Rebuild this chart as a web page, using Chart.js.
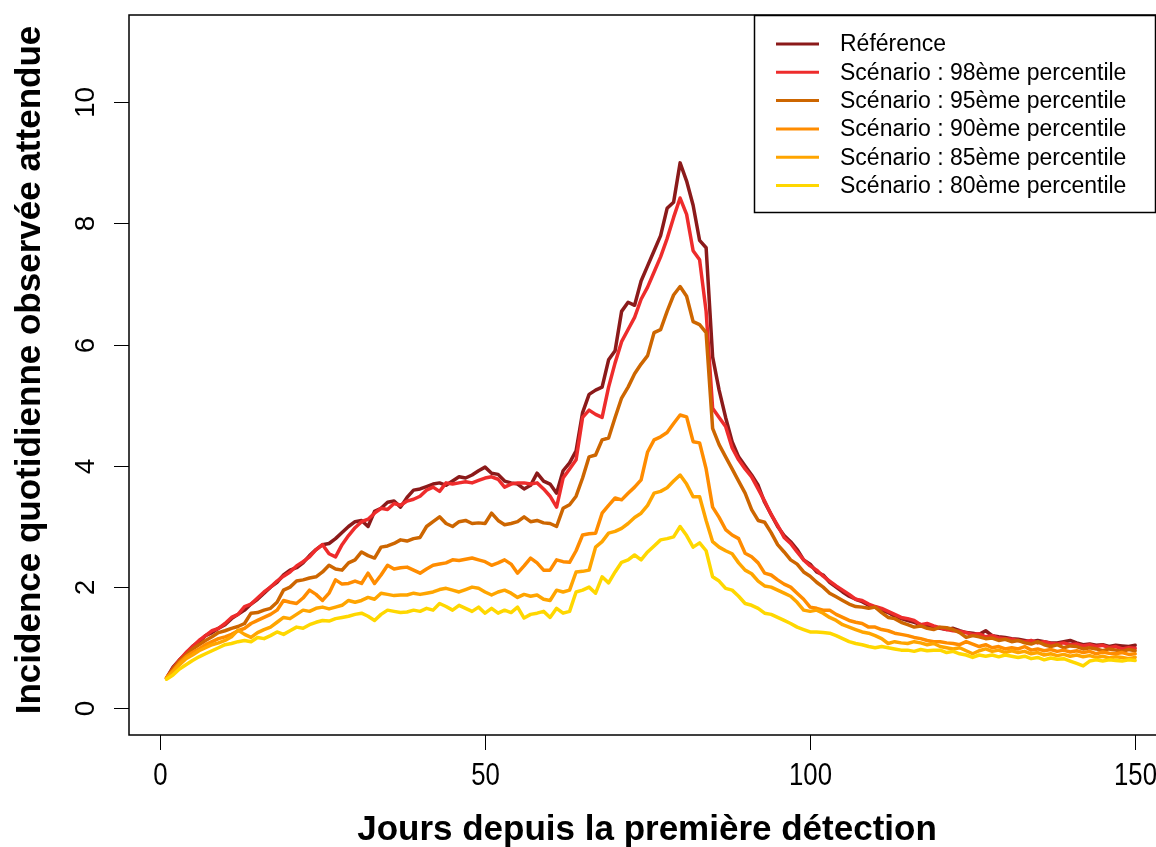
<!DOCTYPE html>
<html>
<head>
<meta charset="utf-8">
<script src="https://cdn.jsdelivr.net/npm/chart.js@4"></script>
<style>
  html, body { margin: 0; padding: 0; background: #fff; }
  #wrap { width: 1156px; height: 847px; }
</style>
</head>
<body>
<div id="wrap"><canvas id="myChart" width="1156" height="847"></canvas></div>
<script>
// jours 1..150
const days = Array.from({ length: 150 }, (_, i) => i + 1);

const reference = [
  0.50, 0.68, 0.80, 0.90, 1.02, 1.10, 1.20, 1.25, 1.32, 1.38,
  1.48, 1.55, 1.62, 1.72, 1.80, 1.90, 2.00, 2.08, 2.20, 2.28,
  2.32, 2.40, 2.52, 2.62, 2.70, 2.72, 2.80, 2.90, 3.00, 3.08,
  3.10, 3.00, 3.25, 3.30, 3.40, 3.42, 3.32, 3.48, 3.60, 3.62,
  3.66, 3.70, 3.72, 3.68, 3.75, 3.82, 3.80, 3.85, 3.92, 3.98,
  3.88, 3.86, 3.75, 3.72, 3.70, 3.62, 3.68, 3.88, 3.75, 3.70,
  3.55, 3.92, 4.05, 4.25, 4.88, 5.18, 5.25, 5.30, 5.75, 5.90,
  6.55, 6.70, 6.65, 7.05, 7.30, 7.55, 7.80, 8.25, 8.35, 9.00,
  8.70, 8.30, 7.72, 7.60, 5.80, 5.25, 4.80, 4.40, 4.15, 4.00,
  3.85, 3.68, 3.40, 3.20, 3.00, 2.85, 2.75, 2.62, 2.45, 2.38,
  2.25, 2.20, 2.08, 2.00, 1.92, 1.85, 1.80, 1.76, 1.70, 1.67,
  1.62, 1.58, 1.52, 1.48, 1.45, 1.42, 1.38, 1.36, 1.34, 1.32,
  1.30, 1.32, 1.28, 1.25, 1.24, 1.22, 1.28, 1.20, 1.18, 1.17,
  1.15, 1.14, 1.12, 1.10, 1.12, 1.10, 1.08, 1.08, 1.10, 1.12,
  1.08, 1.05, 1.06, 1.04, 1.05, 1.02, 1.04, 1.03, 1.02, 1.04
];

const p98 = [
  0.50, 0.66, 0.80, 0.92, 1.02, 1.12, 1.20, 1.28, 1.32, 1.40,
  1.50, 1.55, 1.68, 1.72, 1.82, 1.92, 2.00, 2.10, 2.18, 2.25,
  2.35, 2.42, 2.50, 2.62, 2.70, 2.55, 2.50, 2.70, 2.85, 2.98,
  3.08, 3.12, 3.22, 3.30, 3.28, 3.38, 3.35, 3.42, 3.45, 3.50,
  3.60, 3.65, 3.58, 3.72, 3.70, 3.72, 3.74, 3.72, 3.76, 3.80,
  3.82, 3.78, 3.65, 3.70, 3.72, 3.72, 3.70, 3.72, 3.62, 3.50,
  3.32, 3.80, 3.95, 4.10, 4.80, 4.92, 4.85, 4.80, 5.30, 5.70,
  6.05, 6.25, 6.45, 6.75, 6.95, 7.20, 7.45, 7.75, 8.10, 8.42,
  8.15, 7.55, 7.40, 6.55, 4.95, 4.80, 4.65, 4.30, 4.10, 3.95,
  3.82, 3.62, 3.42, 3.20, 3.02, 2.82, 2.72, 2.58, 2.45, 2.35,
  2.28, 2.18, 2.10, 2.02, 1.95, 1.88, 1.80, 1.78, 1.72, 1.68,
  1.65, 1.60, 1.55, 1.50, 1.48, 1.45, 1.38, 1.40, 1.36, 1.33,
  1.30, 1.28, 1.27, 1.25, 1.22, 1.23, 1.18, 1.20, 1.16, 1.15,
  1.14, 1.12, 1.10, 1.12, 1.08, 1.10, 1.07, 1.06, 1.08, 1.05,
  1.06, 1.03, 1.05, 1.02, 1.04, 1.00, 1.02, 0.98, 1.00, 0.99
];

const p95 = [
  0.50, 0.65, 0.78, 0.88, 0.98, 1.05, 1.12, 1.18, 1.25, 1.28,
  1.32, 1.35, 1.40, 1.57, 1.58, 1.62, 1.65, 1.75, 1.95, 2.00,
  2.10, 2.12, 2.15, 2.17, 2.25, 2.36, 2.30, 2.28, 2.40, 2.45,
  2.58, 2.52, 2.48, 2.66, 2.68, 2.72, 2.78, 2.76, 2.80, 2.82,
  3.00, 3.08, 3.16, 3.05, 3.00, 3.08, 3.10, 3.05, 3.06, 3.05,
  3.22, 3.10, 3.03, 3.05, 3.08, 3.16, 3.08, 3.10, 3.06, 3.05,
  3.00, 3.30, 3.36, 3.50, 3.80, 4.15, 4.18, 4.43, 4.46, 4.80,
  5.12, 5.30, 5.52, 5.68, 5.82, 6.20, 6.25, 6.55, 6.82, 6.96,
  6.80, 6.38, 6.33, 6.20, 4.62, 4.35, 4.15, 3.95, 3.75, 3.55,
  3.28, 3.10, 3.07, 2.90, 2.70, 2.58, 2.45, 2.38, 2.25, 2.18,
  2.08, 2.00, 1.90, 1.84, 1.78, 1.72, 1.68, 1.67, 1.65, 1.67,
  1.58, 1.50, 1.48, 1.42, 1.38, 1.34, 1.36, 1.32, 1.30, 1.34,
  1.33, 1.30, 1.25, 1.17, 1.20, 1.18, 1.15, 1.16, 1.12, 1.14,
  1.10, 1.12, 1.08, 1.06, 1.10, 1.05, 1.02, 1.05, 1.00, 1.03,
  1.02, 0.98, 1.00, 0.98, 0.95, 0.98, 0.96, 0.94, 0.97, 0.95
];

const p90 = [
  0.50, 0.62, 0.75, 0.85, 0.92, 0.98, 1.05, 1.10, 1.15, 1.18,
  1.22, 1.28, 1.32, 1.40, 1.45, 1.50, 1.55, 1.62, 1.78, 1.75,
  1.73, 1.82, 1.95, 1.88, 1.78, 1.90, 2.12, 2.05, 2.06, 2.10,
  2.06, 2.23, 2.06, 2.20, 2.36, 2.30, 2.32, 2.33, 2.28, 2.23,
  2.30, 2.36, 2.38, 2.40, 2.45, 2.44, 2.46, 2.48, 2.45, 2.42,
  2.36, 2.40, 2.45, 2.38, 2.23, 2.35, 2.48, 2.40, 2.28, 2.28,
  2.45, 2.42, 2.41, 2.60, 2.86, 2.88, 2.89, 3.22, 3.35, 3.47,
  3.44, 3.55, 3.65, 3.77, 4.23, 4.43, 4.48, 4.55, 4.70, 4.84,
  4.81, 4.40, 4.38, 3.95, 3.32, 3.15, 2.95, 2.86, 2.80, 2.56,
  2.50, 2.40, 2.23, 2.20, 2.12, 2.05, 2.00, 1.90, 1.80, 1.67,
  1.65, 1.62, 1.62, 1.55, 1.50, 1.45, 1.42, 1.40, 1.34, 1.34,
  1.30, 1.28, 1.24, 1.22, 1.20, 1.17, 1.15, 1.12, 1.10, 1.10,
  1.08, 1.07, 1.05, 1.10, 1.06, 1.02, 1.05, 1.00, 1.02, 0.98,
  1.00, 0.98, 1.02, 0.96, 0.98, 0.95, 0.97, 0.94, 0.96, 0.93,
  0.95, 0.92, 0.94, 0.90, 0.93, 0.91, 0.90, 0.92, 0.89, 0.90
];

const p85 = [
  0.50, 0.60, 0.72, 0.82, 0.88, 0.95, 1.00, 1.05, 1.08, 1.12,
  1.18, 1.29, 1.22, 1.17, 1.25, 1.30, 1.34, 1.42, 1.50, 1.48,
  1.55, 1.62, 1.60, 1.65, 1.67, 1.64, 1.67, 1.70, 1.78, 1.75,
  1.78, 1.83, 1.80, 1.90, 1.88, 1.86, 1.87, 1.87, 1.90, 1.88,
  1.90, 1.92, 1.96, 1.98, 1.95, 1.92, 1.96, 2.00, 1.98, 1.92,
  1.87, 1.92, 1.95, 1.90, 1.83, 1.88, 1.85, 1.87, 1.80, 1.78,
  1.95, 1.92, 1.95, 2.25, 2.26, 2.28, 2.66, 2.75, 2.89, 2.92,
  2.97, 3.05, 3.15, 3.22, 3.35, 3.55, 3.58, 3.64, 3.75, 3.85,
  3.70, 3.49, 3.49, 3.10, 2.75, 2.66, 2.60, 2.55, 2.40, 2.28,
  2.22, 2.10, 2.02, 2.00, 1.95, 1.90, 1.85, 1.75, 1.62, 1.60,
  1.62, 1.57, 1.50, 1.45, 1.38, 1.34, 1.30, 1.26, 1.24, 1.20,
  1.15, 1.07, 1.10, 1.08, 1.07, 1.10, 1.08, 1.05, 1.07, 1.02,
  1.00, 0.98, 1.00, 0.95, 0.90, 0.95, 0.98, 0.94, 0.96, 0.92,
  0.95, 0.92, 0.94, 0.90, 0.92, 0.88, 0.90, 0.87, 0.89, 0.86,
  0.88, 0.85, 0.87, 0.84, 0.86, 0.83, 0.85, 0.84, 0.82, 0.84
];

const p80 = [
  0.48, 0.55, 0.65, 0.72, 0.79, 0.85, 0.90, 0.95, 1.00, 1.05,
  1.07, 1.10, 1.12, 1.10, 1.17, 1.15, 1.20, 1.26, 1.22, 1.28,
  1.34, 1.32, 1.38, 1.42, 1.45, 1.44, 1.48, 1.50, 1.52, 1.55,
  1.57, 1.52, 1.45, 1.55, 1.62, 1.60, 1.58, 1.59, 1.62, 1.60,
  1.65, 1.62, 1.73, 1.68, 1.62, 1.70, 1.65, 1.60, 1.67, 1.57,
  1.65, 1.57, 1.62, 1.58, 1.67, 1.49, 1.55, 1.57, 1.60, 1.50,
  1.65, 1.57, 1.60, 1.92, 1.95, 2.00, 1.90, 2.17, 2.07, 2.25,
  2.41, 2.45, 2.53, 2.45, 2.58, 2.68, 2.78, 2.80, 2.83, 3.00,
  2.85, 2.66, 2.73, 2.60, 2.17, 2.10, 1.98, 1.95, 1.85, 1.73,
  1.70, 1.65, 1.57, 1.55, 1.50, 1.45, 1.40, 1.34, 1.30, 1.26,
  1.26, 1.25, 1.24, 1.20, 1.15, 1.10, 1.07, 1.05, 1.02, 1.00,
  1.02, 1.00, 0.98, 0.96, 0.96, 0.94, 0.97, 0.95, 0.96, 0.96,
  0.92, 0.94, 0.90, 0.88, 0.84, 0.88, 0.86, 0.88, 0.85, 0.88,
  0.86, 0.84, 0.86, 0.82, 0.84, 0.80, 0.83, 0.81, 0.82, 0.78,
  0.74, 0.70, 0.78, 0.80, 0.78, 0.80, 0.79, 0.78, 0.80, 0.79
];

const seriesNames = [
  'Référence',
  'Scénario : 98ème percentile',
  'Scénario : 95ème percentile',
  'Scénario : 90ème percentile',
  'Scénario : 85ème percentile',
  'Scénario : 80ème percentile'
];
const seriesValues = [reference, p98, p95, p90, p85, p80];
const seriesColors = ['#8B1A1A', '#EE2C2C', '#CD6600', '#FF8C00', '#FFA500', '#FFD700'];

const xTicks = [0, 50, 100, 150];
const yTicks = [0, 2, 4, 6, 8, 10];
const xTitle = 'Jours depuis la première détection';
const yTitle = 'Incidence quotidienne observée attendue';

const FONT = '"Liberation Sans", Arial, sans-serif';

// axes + legende facon R
const rStyle = {
    id: 'rStyle',
    afterDraw(chart) {
        const { ctx, chartArea: a, scales: { x, y } } = chart;
        ctx.save();
        ctx.strokeStyle = '#000';
        ctx.fillStyle = '#000';
        ctx.lineWidth = 1.5;
        ctx.strokeRect(a.left, a.top, a.right - a.left + 20, a.bottom - a.top);

        ctx.lineWidth = 1;
        ctx.font = '28px ' + FONT;
        ctx.textAlign = 'center';
        ctx.textBaseline = 'middle';
        xTicks.forEach(v => {
            const px = Math.round(x.getPixelForValue(v)) + 0.5;
            ctx.beginPath();
            ctx.moveTo(px, a.bottom);
            ctx.lineTo(px, a.bottom + 15);
            ctx.stroke();
            ctx.save();
            ctx.translate(px, 776);
            ctx.scale(0.92, 1.12);
            ctx.fillText(String(v), 0, 0);
            ctx.restore();
        });
        yTicks.forEach(v => {
            const py = Math.round(y.getPixelForValue(v)) + 0.5;
            ctx.beginPath();
            ctx.moveTo(a.left - 15, py);
            ctx.lineTo(a.left, py);
            ctx.stroke();
            ctx.save();
            ctx.translate(86, py);
            ctx.rotate(-Math.PI / 2);
            ctx.fillText(String(v), 0, 0);
            ctx.restore();
        });

        ctx.font = 'bold 35px ' + FONT;
        ctx.fillText(xTitle, 647, 830);
        ctx.save();
        ctx.translate(30, 370);
        ctx.rotate(-Math.PI / 2);
        ctx.fillText(yTitle, 0, 0);
        ctx.restore();

        // legende
        const lx = 754, ly = 15, lw = 401, lh = 197;
        ctx.fillStyle = '#fff';
        ctx.fillRect(lx, ly, lw, lh);
        ctx.lineWidth = 1.5;
        ctx.strokeStyle = '#000';
        ctx.strokeRect(lx + 0.5, ly + 0.5, lw, lh);
        ctx.font = '23px ' + FONT;
        ctx.textAlign = 'left';
        seriesNames.forEach((name, i) => {
            const ry = 44 + i * 28.3;
            ctx.strokeStyle = seriesColors[i];
            ctx.lineWidth = 3;
            ctx.beginPath();
            ctx.moveTo(776, ry);
            ctx.lineTo(819, ry);
            ctx.stroke();
            ctx.fillStyle = '#000';
            ctx.fillText(name, 840, ry + 1);
        });
        ctx.restore();
    }
};

const datasets = seriesNames.map((name, i) => ({
    label: name,
    data: days.map((d, k) => ({ x: d, y: seriesValues[i][k] })),
    borderColor: seriesColors[i],
    backgroundColor: seriesColors[i],
    borderWidth: 3.5,
    pointRadius: 0,
    tension: 0,
    borderJoinStyle: 'round',
    borderCapStyle: 'round',
    order: seriesNames.length - i
}));

const config = {
    type: 'line',
    data: { datasets },
    options: {
        responsive: false,
        animation: false,
        layout: { padding: { left: 129, top: 15, right: 0, bottom: 112 } },
        plugins: { legend: { display: false }, tooltip: { enabled: false } },
        scales: {
            x: { type: 'linear', min: -4.77, max: 153.2, display: false },
            y: { type: 'linear', min: -0.44, max: 11.44, display: false }
        }
    },
    plugins: [rStyle]
};

const myChart = new Chart(document.getElementById('myChart'), config);
</script>
</body>
</html>
